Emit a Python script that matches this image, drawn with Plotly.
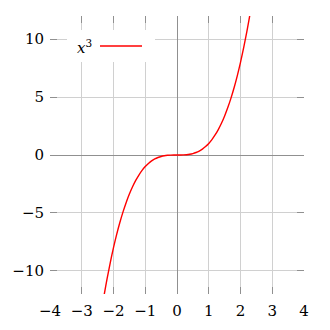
import plotly.graph_objects as go

x_vals = [-2.3, -2.2, -2.1, -2.0, -1.9, -1.8, -1.7, -1.6, -1.5, -1.4, -1.3, -1.2,
          -1.1, -1.0, -0.9, -0.8, -0.7, -0.6, -0.5, -0.4, -0.3, -0.2, -0.1, 0.0,
          0.1, 0.2, 0.3, 0.4, 0.5, 0.6, 0.7, 0.8, 0.9, 1.0, 1.1, 1.2, 1.3, 1.4,
          1.5, 1.6, 1.7, 1.8, 1.9, 2.0, 2.1, 2.2, 2.3]
y_vals = [-12.167, -10.648, -9.261, -8.0, -6.859, -5.832, -4.913, -4.096, -3.375,
          -2.744, -2.197, -1.728, -1.331, -1.0, -0.729, -0.512, -0.343, -0.216,
          -0.125, -0.064, -0.027, -0.008, -0.001, 0.0, 0.001, 0.008, 0.027, 0.064,
          0.125, 0.216, 0.343, 0.512, 0.729, 1.0, 1.331, 1.728, 2.197, 2.744,
          3.375, 4.096, 4.913, 5.832, 6.859, 8.0, 9.261, 10.648, 12.167]
x_ticks = [-4, -3, -2, -1, 0, 1, 2, 3, 4]
y_ticks = [-10, -5, 0, 5, 10]
legend_label = "<i>x</i><sup>3</sup>"

SERIF = "DejaVu Serif"
FS = 15
RED = "#ff0000"

fig = go.Figure()
fig.add_trace(go.Scatter(x=x_vals, y=y_vals, mode="lines", name="x^3",
                         showlegend=False,
                         line=dict(color=RED, width=1.4, shape="spline")))

axis_common = dict(
    showgrid=True, gridcolor="#d0d0d0", gridwidth=1,
    zeroline=True, zerolinecolor="#909090", zerolinewidth=1,
    showline=False, ticks="inside", ticklen=7, tickcolor="#909090", tickwidth=1,
    mirror="ticks", automargin=False,
)

fig.update_xaxes(range=[-4, 4], tickvals=x_ticks, ticklabelstandoff=6,
                 tickfont=dict(family=SERIF, size=FS, color="black"), **axis_common)
fig.update_yaxes(range=[-12, 12], tickvals=y_ticks, ticklabelstandoff=5,
                 tickfont=dict(family=SERIF, size=FS, color="black"), **axis_common)

def px_x(p):
    return (p - 50) / 254.0

def px_y(p):
    return (294 - p) / 278.0

fig.add_shape(type="rect", xref="paper", yref="paper",
              x0=px_x(67), x1=px_x(155), y0=px_y(62), y1=px_y(30),
              fillcolor="white", line=dict(width=0), layer="above")
fig.add_shape(type="line", xref="paper", yref="paper",
              x0=px_x(100), x1=px_x(142), y0=px_y(46), y1=px_y(46),
              line=dict(color=RED, width=1.4), layer="above")
fig.add_annotation(xref="paper", yref="paper", x=px_x(84), y=px_y(47),
                   text=legend_label, showarrow=False,
                   xanchor="center", yanchor="middle",
                   font=dict(family=SERIF, size=FS, color="black"))

fig.update_layout(
    width=330, height=330,
    margin=dict(l=50, r=26, t=16, b=36),
    plot_bgcolor="white", paper_bgcolor="white",
    showlegend=False,
    font=dict(family=SERIF, size=FS, color="black"),
)

fig.write_html("out.html")
